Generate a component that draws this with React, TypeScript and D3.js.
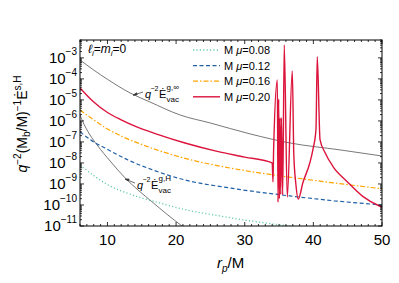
import * as d3 from "d3";

// --- data (values as log10 of the plotted quantity) ---

const vacInfR = [6, 8, 10, 13.3, 16.2, 20.6, 25, 30.8, 36.6, 43.9, 50];
const vacInfLog = [-3.1, -3.58, -4.02, -4.67, -5.1, -5.72, -6.1, -6.62, -7.05, -7.38, -7.67];

const vacHorR = [6, 6.29, 7.46, 8.48, 10.5, 12.56, 14.5, 16.5, 18.7, 20.86, 22.5];
const vacHorLog = [-5.72, -5.95, -6.67, -7.14, -7.95, -8.71, -9.3, -9.85, -10.45, -11.0, -11.4];

const mu08R = [6, 8, 10, 13, 17, 21.3, 26, 30.8, 36.6, 43, 50];
const mu08Log = [-8.1, -8.6, -9.03, -9.45, -9.85, -10.22, -10.5, -10.76, -11.0, -11.23, -11.43];

const mu12R = [6, 8, 9.64, 13, 17, 21.3, 28, 36.6, 43, 50];
const mu12Log = [-6.52, -7.0, -7.29, -7.86, -8.38, -8.81, -9.2, -9.57, -9.8, -10.0];

const mu16R = [6, 8, 10, 12, 15, 20.6, 28, 36.2, 43, 50];
const mu16Log = [-5.48, -5.95, -6.38, -6.72, -7.12, -7.72, -8.25, -8.66, -8.95, -9.23];

const mu20R = [
  6, 8, 10, 12, 14, 17.4, 21.3, 26, 30, 34.0, 34.12, 34.2, 34.75, 34.85, 34.95,
  35.05, 35.15, 35.25, 35.35, 35.53, 35.76, 36.2, 36.93, 37.15, 37.45, 37.8,
  38.49, 39.5, 39.94, 40.38, 40.57, 40.97, 41.69, 42.86, 44.9, 47.2, 49.7, 50,
];
const mu20Log = [
  -4.43, -5.1, -5.6, -5.95, -6.25, -6.65, -7.05, -7.45, -7.72, -8.0, -8.9, -7.5,
  -4.05, -9.87, -4.96, -9.7, -5.86, -9.5, -5.85, -9.52, -2.39, -9.62, -3.62,
  -7.6, -9.0, -9.72, -8.92, -7.98, -7.36, -6.41, -2.95, -6.89, -7.5, -8.17,
  -8.88, -9.59, -10.06, -10.1,
];

const legendLabels = ["0.08", "0.12", "0.16", "0.20"];
const xTicks = [10, 20, 30, 40, 50];
const yExponents = [-3, -4, -5, -6, -7, -8, -9, -10, -11];

// --- styles ---

const FONT = "'Liberation Sans', Arial, Helvetica, sans-serif";
const PLOT = { left: 80, right: 382, top: 40, bottom: 226 };

const STYLE = [
  { color: "#66cdaa", width: 1.3, dash: "1.2,2.2" },
  { color: "#1f5fa6", width: 1.2, dash: "4,2.5" },
  { color: "#ffa500", width: 1.2, dash: "5,2,1.5,2" },
  { color: "#dc143c", width: 1.4, dash: "" },
];

const x = d3.scaleLinear().domain([6, 50]).range([PLOT.left, PLOT.right]);
const y = d3
  .scaleLog()
  .domain([1e-11, Math.pow(10, -2.15)])
  .range([PLOT.bottom, PLOT.top]);

const line = d3
  .line<[number, number]>()
  .x((d) => x(d[0]))
  .y((d) => y(Math.pow(10, d[1])))
  .curve(d3.curveMonotoneX);

const path = (r: number[], l: number[]) =>
  line(r.map((v, i) => [v, l[i]] as [number, number])) ?? "";

// q^-2 Ė^{sup}_{vac} placed piece by piece
function VacLabel({ x0, y0, sup }: { x0: number; y0: number; sup: string }) {
  return (
    <g fontSize={11}>
      <text x={x0} y={y0} fontStyle="italic">q</text>
      <text x={x0 + 5.5} y={y0 - 7} fontSize={7}>{"\u22122"}</text>
      <text x={x0 + 14} y={y0}>{"\u0116"}</text>
      <text x={x0 + 21.5} y={y0 - 8.5} fontSize={8}>{sup}</text>
      <text x={x0 + 21.5} y={y0 + 4} fontSize={8}>vac</text>
    </g>
  );
}

export default function App() {
  const minorX = d3.range(6, 51, 1).filter((v) => v % 10 !== 0);
  const minorY: number[] = [];
  for (let e = -11; e <= -3; e++) {
    for (let k = 2; k <= 9; k++) {
      const v = k * Math.pow(10, e);
      if (v < y.domain()[1]) minorY.push(v);
    }
  }

  const series = [
    path(mu08R, mu08Log),
    path(mu12R, mu12Log),
    path(mu16R, mu16Log),
    path(mu20R, mu20Log),
  ];

  const ticks: JSX.Element[] = [];
  xTicks.forEach((t) => {
    const px = x(t);
    ticks.push(<line key={"xb" + t} x1={px} x2={px} y1={PLOT.bottom} y2={PLOT.bottom - 4} />);
    ticks.push(<line key={"xt" + t} x1={px} x2={px} y1={PLOT.top} y2={PLOT.top + 4} />);
  });
  minorX.forEach((t) => {
    const px = x(t);
    ticks.push(<line key={"mxb" + t} x1={px} x2={px} y1={PLOT.bottom} y2={PLOT.bottom - 2} />);
    ticks.push(<line key={"mxt" + t} x1={px} x2={px} y1={PLOT.top} y2={PLOT.top + 2} />);
  });
  yExponents.forEach((e) => {
    const py = y(Math.pow(10, e));
    ticks.push(<line key={"yl" + e} x1={PLOT.left} x2={PLOT.left + 4} y1={py} y2={py} />);
    ticks.push(<line key={"yr" + e} x1={PLOT.right} x2={PLOT.right - 4} y1={py} y2={py} />);
  });
  minorY.forEach((v, i) => {
    const py = y(v);
    ticks.push(<line key={"myl" + i} x1={PLOT.left} x2={PLOT.left + 2} y1={py} y2={py} />);
    ticks.push(<line key={"myr" + i} x1={PLOT.right} x2={PLOT.right - 2} y1={py} y2={py} />);
  });

  return (
    <svg
      width={399}
      height={283}
      style={{ position: "absolute", left: 0, top: 0, background: "#fff" }}
      fontFamily={FONT}
    >
      <defs>
        <clipPath id="plot">
          <rect x={PLOT.left} y={PLOT.top} width={PLOT.right - PLOT.left} height={PLOT.bottom - PLOT.top} />
        </clipPath>
      </defs>

      <g clipPath="url(#plot)" fill="none">
        <path d={path(vacInfR, vacInfLog)} stroke="#555" strokeWidth={0.8} />
        <path d={path(vacHorR, vacHorLog)} stroke="#555" strokeWidth={0.8} />
        {series.map((d, i) => (
          <path
            key={i}
            d={d}
            stroke={STYLE[i].color}
            strokeWidth={STYLE[i].width}
            strokeDasharray={STYLE[i].dash || undefined}
            strokeLinejoin="round"
          />
        ))}
      </g>

      {/* frame & ticks */}
      <rect
        x={PLOT.left}
        y={PLOT.top}
        width={PLOT.right - PLOT.left}
        height={PLOT.bottom - PLOT.top}
        fill="none"
        stroke="#000"
        strokeWidth={1}
      />
      <g stroke="#000" strokeWidth={0.8}>{ticks}</g>

      {/* tick labels */}
      {xTicks.map((t) => (
        <text key={t} x={x(t)} y={245} fontSize={15} textAnchor="middle">
          {t}
        </text>
      ))}
      {yExponents.map((e) => {
        const py = y(Math.pow(10, e));
        return (
          <text key={e} x={77} y={py + 5} fontSize={15} textAnchor="end">
            10
            <tspan fontSize={10} dy={-8}>
              {"\u2212" + -e}
            </tspan>
          </text>
        );
      })}

      {/* axis labels */}
      <text x={217} y={268} fontSize={15}>
        <tspan fontStyle="italic">r</tspan>
        <tspan fontSize={10} fontStyle="italic" dy={4}>
          p
        </tspan>
        <tspan dy={-4}>/M</tspan>
      </text>
      <text transform="translate(27,124) rotate(-90)" fontSize={14} textAnchor="middle">
        <tspan fontStyle="italic">q</tspan>
        <tspan fontSize={10} dy={-6}>{"\u22122"}</tspan>
        <tspan dy={6}>(M</tspan>
        <tspan fontSize={10} dy={3}>b</tspan>
        <tspan dy={-3}>/M)</tspan>
        <tspan fontSize={10} dy={-6}>{"\u22121"}</tspan>
        <tspan dy={6}>{"\u0116"}</tspan>
        <tspan fontSize={10} dy={-6}>s,H</tspan>
      </text>

      {/* top-left label */}
      <text x={88} y={53} fontSize={12}>
        <tspan fontStyle="italic">{"\u2113"}</tspan>
        <tspan fontSize={8} fontStyle="italic" dy={3}>i</tspan>
        <tspan dy={-3}>=</tspan>
        <tspan fontStyle="italic">m</tspan>
        <tspan fontSize={8} fontStyle="italic" dy={3}>i</tspan>
        <tspan dy={-3}>=0</tspan>
      </text>

      {/* annotations */}
      <g stroke="#333" strokeWidth={0.7} fill="none">
        <line x1={143} y1={92} x2={134} y2={95} />
        <path d="M133,95.3 l3.6,-2.6 l0.6,2 z" fill="#333" />
        <line x1={135} y1={183} x2={126} y2={179.5} />
        <path d="M125,179 l4.2,0 l-1,1.9 z" fill="#333" />
      </g>
      <VacLabel x0={145} y0={98} sup={"g,\u221E"} />
      <VacLabel x0={137} y0={189} sup="g,H" />

      {/* legend */}
      {legendLabels.map((lab, i) => {
        const ly = 50 + i * 15.6;
        return (
          <g key={lab}>
            <line
              x1={193}
              x2={220}
              y1={ly}
              y2={ly}
              stroke={STYLE[i].color}
              strokeWidth={STYLE[i].width}
              strokeDasharray={STYLE[i].dash || undefined}
            />
            <text x={224} y={ly + 4} fontSize={11}>
              {"M "}
              <tspan fontStyle="italic">{"\u03BC"}</tspan>
              {"=" + lab}
            </text>
          </g>
        );
      })}
    </svg>
  );
}
